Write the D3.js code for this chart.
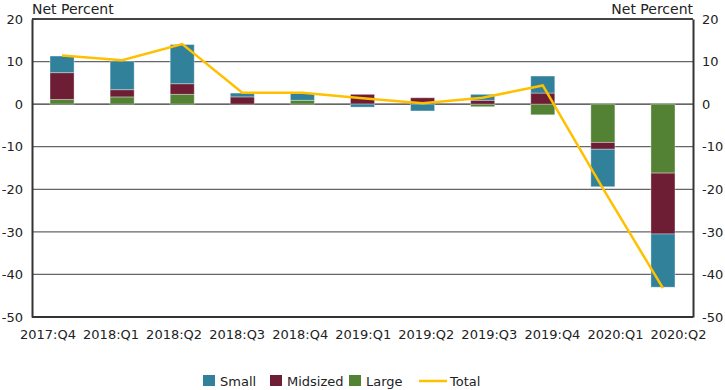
<!DOCTYPE html>
<html>
<head>
<meta charset="utf-8">
<script src="https://cdn.jsdelivr.net/npm/d3@7"></script>
<style>
  body { margin: 0; background: #fff; }
  text { font-family: "DejaVu Sans", sans-serif; fill: #222; }
</style>
</head>
<body>
<svg id="chart" width="725" height="390"></svg>
<script>
// quarters and net percent by bank size
var quarters = ["2017:Q4","2018:Q1","2018:Q2","2018:Q3","2018:Q4","2019:Q1","2019:Q2","2019:Q3","2019:Q4","2020:Q1","2020:Q2"];
var small    = [3.9, 6.7, 9.2, 0.9, 1.7, -0.7, -1.6, 1.4, 4.0, -8.8, -12.5];
var midsized = [6.3, 1.7, 2.5, 1.7, 0, 2.3, 1.5, 0.9, 2.6, -1.6, -14.3];
var large    = [1.1, 1.7, 2.3, 0, 0.9, 0, 0, -0.6, -2.5, -9.0, -16.2];
var total    = [11.4, 10.3, 14.1, 2.7, 2.7, 1.4, 0.2, 1.5, 4.4, -19.8, -43.2];
var yTicks   = [20, 10, 0, -10, -20, -30, -40, -50];

var colors = { Small: "#31819a", Midsized: "#6d1e34", Large: "#548235", Total: "#ffc000" };

var svg = d3.select("#chart"),
    margin = {top: 19, right: 32, bottom: 73, left: 32},
    width = 725 - margin.left - margin.right,
    height = 390 - margin.top - margin.bottom,
    g = svg.append("g").attr("transform", "translate(" + margin.left + "," + margin.top + ")");

var rows = quarters.map(function(q, i) {
    return {q: q, Large: large[i], Midsized: midsized[i], Small: small[i]};
});

var x = d3.scaleBand().domain(quarters).range([0, width]).paddingInner(0.6).paddingOuter(0.3);
var y = d3.scaleLinear().domain([-50, 20]).range([height, 0]);
// category labels are spread a little wider than the bars in the original
var xLabel = d3.scalePoint().domain(quarters).range([15.5, 646]);

// gridlines
g.selectAll(".grid")
    .data(yTicks.filter(function(d) { return d !== -50; }))
    .enter().append("line")
    .attr("x1", 0).attr("x2", width)
    .attr("y1", function(d) { return y(d); })
    .attr("y2", function(d) { return y(d); })
    .attr("stroke", function(d) { return d === 20 ? "#444" : (d === 0 ? "#333" : "#666"); })
    .attr("stroke-width", function(d) { return d === 20 ? 2 : 1.3; });

var stack = d3.stack()
    .keys(["Large", "Midsized", "Small"])
    .offset(d3.stackOffsetDiverging);

var series = g.selectAll(".series")
    .data(stack(rows))
    .enter().append("g")
    .attr("fill", function(d) { return colors[d.key]; });

series.selectAll("rect")
    .data(function(d) { return d; })
    .enter().append("rect")
    .attr("x", function(d) { return x(d.data.q); })
    .attr("width", x.bandwidth())
    .attr("y", function(d) { return y(Math.max(d[0], d[1])); })
    .attr("height", function(d) { return Math.abs(y(d[0]) - y(d[1])); })
    .attr("stroke", "rgba(255,255,255,0.35)")
    .attr("stroke-width", 1);

// total line
var line = d3.line()
    .x(function(d, i) { return x(quarters[i]) + x.bandwidth() / 2; })
    .y(function(d) { return y(d); });

g.append("path")
    .datum(total)
    .attr("fill", "none")
    .attr("stroke", colors.Total)
    .attr("stroke-width", 2.5)
    .attr("d", line);

// axes (plain hyphen for negatives, like the original)
var fmt = function(d) { return String(d); };
var yLeft = d3.axisLeft(y).tickValues(yTicks).tickFormat(fmt).tickSize(0).tickPadding(9);
var yRight = d3.axisRight(y).tickValues(yTicks).tickFormat(fmt).tickSize(0).tickPadding(9);

function styleAxis(sel) {
    sel.select(".domain").attr("stroke", "#333").attr("stroke-width", 2);
    sel.selectAll("text").style("font-size", "13px").attr("fill", "#222");
}

g.append("g").call(yLeft).call(styleAxis);
g.append("g").attr("transform", "translate(" + width + ",0)").call(yRight).call(styleAxis);

// bottom axis line + labels
g.append("line").attr("x1", 0).attr("x2", width).attr("y1", height).attr("y2", height)
    .attr("stroke", "#333").attr("stroke-width", 2);
g.append("g").attr("transform", "translate(0," + height + ")")
    .call(d3.axisBottom(xLabel).tickSize(0).tickPadding(13))
    .call(function(sel) {
        sel.select(".domain").remove();
        sel.selectAll("text").style("font-size", "13px").attr("fill", "#222");
    });

// titles
svg.append("text").attr("x", margin.left).attr("y", 14)
    .style("font-size", "14px").text("Net Percent");
svg.append("text").attr("x", margin.left + width).attr("y", 14)
    .attr("text-anchor", "end").style("font-size", "14px").text("Net Percent");

// legend
var legend = svg.append("g").attr("transform", "translate(0,386)");
var boxes = [["Small", 203], ["Midsized", 270], ["Large", 349]];
boxes.forEach(function(b) {
    legend.append("rect").attr("x", b[1]).attr("y", -11).attr("width", 12).attr("height", 11)
        .attr("fill", colors[b[0]]);
    legend.append("text").attr("x", b[1] + 17).attr("y", 0)
        .style("font-size", "13px").text(b[0]);
});
legend.append("line").attr("x1", 419).attr("x2", 447).attr("y1", -5).attr("y2", -5)
    .attr("stroke", colors.Total).attr("stroke-width", 2.5);
legend.append("text").attr("x", 450).attr("y", 0).style("font-size", "13px").text("Total");
</script>
</body>
</html>
